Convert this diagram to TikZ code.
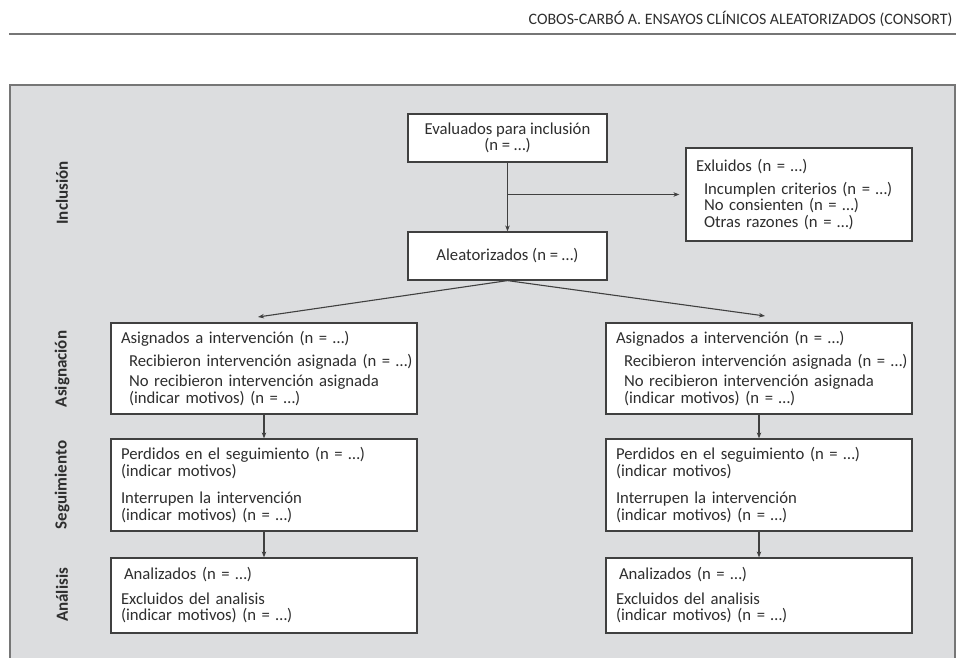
\documentclass[tikz,border=0pt]{standalone}
\usepackage{fontspec}
\setmainfont{Carlito}
\usetikzlibrary{arrows.meta,calc}
\definecolor{panelgray}{HTML}{DCDDDF}
\definecolor{panelline}{HTML}{767676}
\definecolor{boxline}{HTML}{404040}
\definecolor{txt}{HTML}{2E2E2E}
\tikzset{
  box/.style={draw=boxline, fill=white, line width=1.2pt, text=txt,
    font=\fontsize{16.7}{16.5}\selectfont, inner ysep=2pt},
  leftbox/.style={box, align=left, text width=#1, inner xsep=10pt},
  centerbox/.style={box, align=center},
  conn/.style={draw=boxline, line width=1.1pt, -{Stealth[length=6pt,width=4.5pt]}},
  sidelabel/.style={rotate=90, text=txt, font=\fontsize{17}{17}\selectfont\bfseries},
}
\newcommand{\ind}[1][8pt]{\hspace*{#1}}
\newcommand{\nn}{(n~=~…)}
\begin{document}
\begin{tikzpicture}[x=1pt,y=-1pt]
\useasboundingbox (0,0) rectangle (956,658);
% header
\node[anchor=base east, text=txt, font=\fontsize{15.9}{16}\selectfont] (hdr) at (956,25) {COBOS-CARBÓ A. ENSAYOS CLÍNICOS ALEATORIZADOS (CONSORT)};
\draw[panelline, line width=2pt] (9,34) -- (956,34);
% panel
\draw[draw=panelline, fill=panelgray, line width=1.5pt] (10,85) rectangle (955,680);
% side labels
\node[sidelabel] (lincl) at (62,193) {Inclusión};
\node[sidelabel] (lasig) at (62,369) {Asignación};
\node[sidelabel] (lseg) at (62,485) {Seguimiento};
\node[sidelabel] (lanal) at (62,595) {Análisis};
% top boxes
\node[centerbox, minimum width=199pt, minimum height=48pt] (eval) at (507.5,138) {Evaluados para inclusión\\\nn};
\node[centerbox, minimum width=199pt, minimum height=48pt] (alea) at (507.5,256) {Aleatorizados \nn};
\node[leftbox=206pt, minimum height=93pt] (excl) at (799,194.5) {Exluidos \nn\\[6pt]
\ind Incumplen criterios \nn\\
\ind No consienten \nn\\
\ind Otras razones \nn};
% left column
\node[leftbox=286pt, minimum height=91pt] (asigL) at (264,368.5) {Asignados a intervención \nn\\[6pt]
\ind\mbox{Recibieron intervención asignada \nn}\\[4pt]
\ind No recibieron intervención asignada\\
\ind (indicar motivos) \nn};
\node[leftbox=286pt, minimum height=92pt] (perdL) at (264,485) {Perdidos en el seguimiento \nn\\
(indicar motivos)\\[11pt]
Interrupen la intervención\\
(indicar motivos) \nn};
\node[leftbox=286pt, minimum height=75pt] (analL) at (264,595.5) {\ind[3pt]Analizados \nn\\[8pt]
Excluidos del analisis\\
(indicar motivos) \nn};
% right column
\node[leftbox=286pt, minimum height=91pt] (asigR) at (759,368.5) {Asignados a intervención \nn\\[6pt]
\ind\mbox{Recibieron intervención asignada \nn}\\[4pt]
\ind No recibieron intervención asignada\\
\ind (indicar motivos) \nn};
\node[leftbox=286pt, minimum height=92pt] (perdR) at (759,485) {Perdidos en el seguimiento \nn\\
(indicar motivos)\\[11pt]
Interrupen la intervención\\
(indicar motivos) \nn};
\node[leftbox=286pt, minimum height=75pt] (analR) at (759,595.5) {\ind[3pt]Analizados \nn\\[8pt]
Excluidos del analisis\\
(indicar motivos) \nn};
% connectors
\coordinate (br) at (eval.south |- excl.west);
\coordinate (tipL) at (258,317);
\coordinate (tipR) at (765,316);
\draw[conn] (eval.south) -- (alea.north);
\draw[conn, shorten >=6pt] (br) -- (excl.west);
\draw[conn] (alea.south) -- (tipL);
\draw[conn] (alea.south) -- (tipR);
\draw[conn] (asigL.south) -- (perdL.north);
\draw[conn] (perdL.south) -- (analL.north);
\draw[conn] (asigR.south) -- (perdR.north);
\draw[conn] (perdR.south) -- (analR.north);
\end{tikzpicture}
\end{document}
